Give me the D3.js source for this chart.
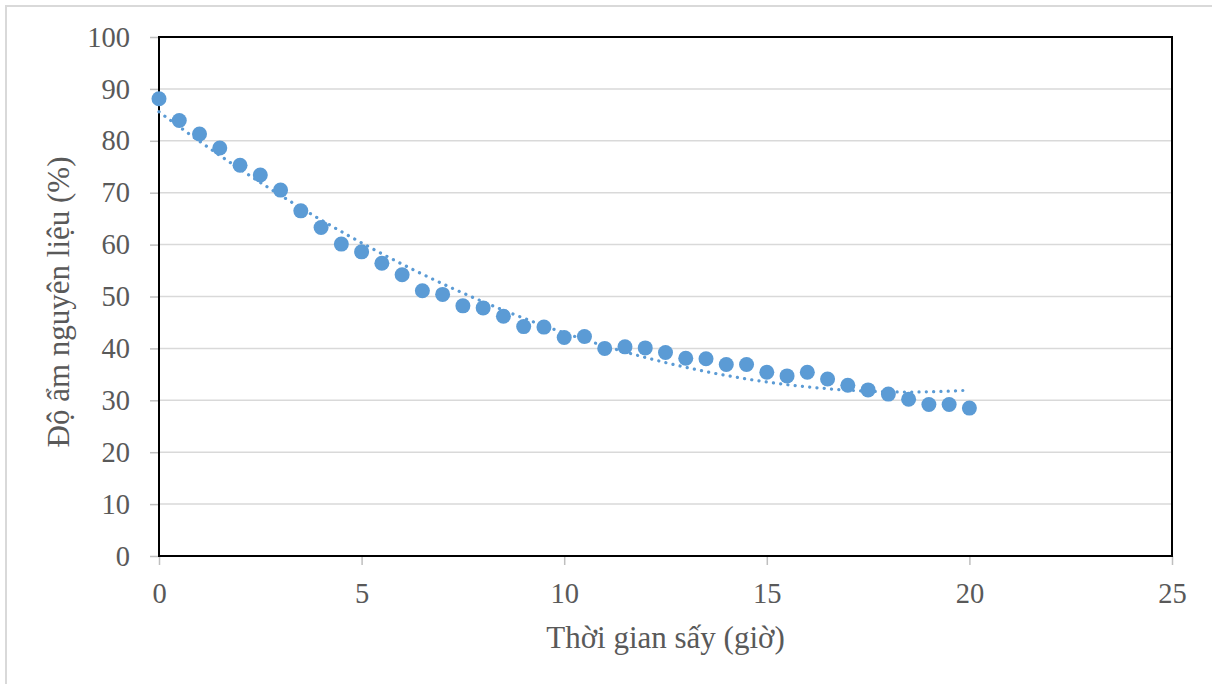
<!DOCTYPE html>
<html>
<head>
<meta charset="utf-8">
<script src="https://cdn.jsdelivr.net/npm/d3@7"></script>
<style>
    html, body { margin: 0; padding: 0; background: #ffffff; }
    svg { display: block; }
    text { font-family: "Liberation Serif", "Times New Roman", serif; fill: #595959; }
</style>
</head>
<body>
<div id="graphContainer"></div>
<script>

// drying time (hours) and moisture content (%)
const hours = [0, 0.5, 1, 1.5, 2, 2.5, 3, 3.5, 4, 4.5, 5, 5.5, 6, 6.5, 7, 7.5, 8, 8.5, 9, 9.5,
    10, 10.5, 11, 11.5, 12, 12.5, 13, 13.5, 14, 14.5, 15, 15.5, 16, 16.5, 17, 17.5, 18, 18.5, 19, 19.5, 20];
const moisture = [88.1, 83.9, 81.3, 78.6, 75.3, 73.4, 70.5, 66.5, 63.3, 60.1, 58.6, 56.4, 54.2, 51.1, 50.4, 48.2, 47.8, 46.2, 44.2, 44.1,
    42.1, 42.3, 40.0, 40.3, 40.1, 39.2, 38.1, 38.0, 36.9, 36.9, 35.4, 34.7, 35.4, 34.1, 32.9, 32.0, 31.2, 30.2, 29.2, 29.2, 28.5];
const xTicks = [0, 5, 10, 15, 20, 25];
const yTicks = [0, 10, 20, 30, 40, 50, 60, 70, 80, 90, 100];
const xTitle = "Thời gian sấy (giờ)";
const yTitle = "Độ ẩm nguyên liệu (%)";

// least squares fit, 2nd order polynomial (like the Excel trendline)
function polyFit2(xs, ys) {
    let s = [0, 0, 0, 0, 0], t = [0, 0, 0];
    xs.forEach((x, i) => {
        for (let k = 0; k < 5; k++) s[k] += Math.pow(x, k);
        for (let k = 0; k < 3; k++) t[k] += ys[i] * Math.pow(x, k);
    });
    const m = [[s[0], s[1], s[2], t[0]], [s[1], s[2], s[3], t[1]], [s[2], s[3], s[4], t[2]]];
    for (let i = 0; i < 3; i++) {
        for (let j = i + 1; j < 3; j++) {
            const f = m[j][i] / m[i][i];
            for (let k = i; k < 4; k++) m[j][k] -= f * m[i][k];
        }
    }
    const c = [0, 0, 0];
    for (let i = 2; i >= 0; i--) {
        let v = m[i][3];
        for (let k = i + 1; k < 3; k++) v -= m[i][k] * c[k];
        c[i] = v / m[i][i];
    }
    return x => c[0] + c[1] * x + c[2] * x * x;
}

const W = 1212, H = 684;
const margin = {top: 37, right: 40, bottom: 128, left: 159};
const width = 1172 - margin.left,
      height = 556 - margin.top;

const svg = d3.select("#graphContainer").append("svg")
    .attr("width", W)
    .attr("height", H);

// chart area border
svg.append("rect")
    .attr("x", 6).attr("y", 6)
    .attr("width", W + 20).attr("height", H + 20)
    .attr("fill", "#ffffff")
    .attr("stroke", "#d9d9d9")
    .attr("stroke-width", 2);

const g = svg.append("g")
    .attr("transform", "translate(" + margin.left + "," + margin.top + ")");

const x = d3.scaleLinear().domain([0, 25]).range([0, width]);
const y = d3.scaleLinear().domain([0, 100]).range([height, 0]);

// horizontal gridlines
g.append("g")
    .selectAll("line")
    .data(yTicks.filter(d => d > 0 && d < 100))
    .enter()
    .append("line")
    .attr("x1", 0).attr("x2", width)
    .attr("y1", d => y(d)).attr("y2", d => y(d))
    .attr("stroke", "#d9d9d9")
    .attr("stroke-width", 1.5);

// axes
const yAxis = g.append("g")
    .call(d3.axisLeft(y).tickValues(yTicks).tickSize(9).tickPadding(20));
const xAxis = g.append("g")
    .attr("transform", "translate(0," + height + ")")
    .call(d3.axisBottom(x).tickValues(xTicks).tickSize(9).tickPadding(18));

[yAxis, xAxis].forEach(ax => {
    ax.select(".domain").remove();
    ax.selectAll(".tick line").attr("stroke", "#bfbfbf").attr("stroke-width", 1.5);
    ax.selectAll(".tick text")
        .style("font-family", '"Liberation Serif", "Times New Roman", serif')
        .style("font-size", "28.5px")
        .attr("fill", "#595959");
});

// plot frame
g.append("rect")
    .attr("x", 0).attr("y", 0)
    .attr("width", width).attr("height", height)
    .attr("fill", "none")
    .attr("stroke", "#000000")
    .attr("stroke-width", 2);

// trendline
const fit = polyFit2(hours, moisture);
const trendX = d3.range(0, 20.001, 0.25);
g.append("path")
    .datum(trendX)
    .attr("d", d3.line().x(d => x(d)).y(d => y(fit(d))))
    .attr("fill", "none")
    .attr("stroke", "#5b9bd5")
    .attr("stroke-width", 3.2)
    .attr("stroke-linecap", "round")
    .attr("stroke-dasharray", "0.1 7.2");

// data points
g.selectAll("circle.pt")
    .data(hours)
    .enter()
    .append("circle")
    .attr("class", "pt")
    .attr("cx", d => x(d))
    .attr("cy", (d, i) => y(moisture[i]))
    .attr("r", 7.5)
    .attr("fill", "#5b9bd5");

// axis titles
svg.append("text")
    .attr("x", margin.left + width / 2)
    .attr("y", 648)
    .attr("text-anchor", "middle")
    .style("font-size", "31px")
    .text(xTitle);

svg.append("text")
    .attr("transform", "translate(69,302) rotate(-90)")
    .attr("text-anchor", "middle")
    .style("font-size", "31px")
    .text(yTitle);

</script>
</body>
</html>
